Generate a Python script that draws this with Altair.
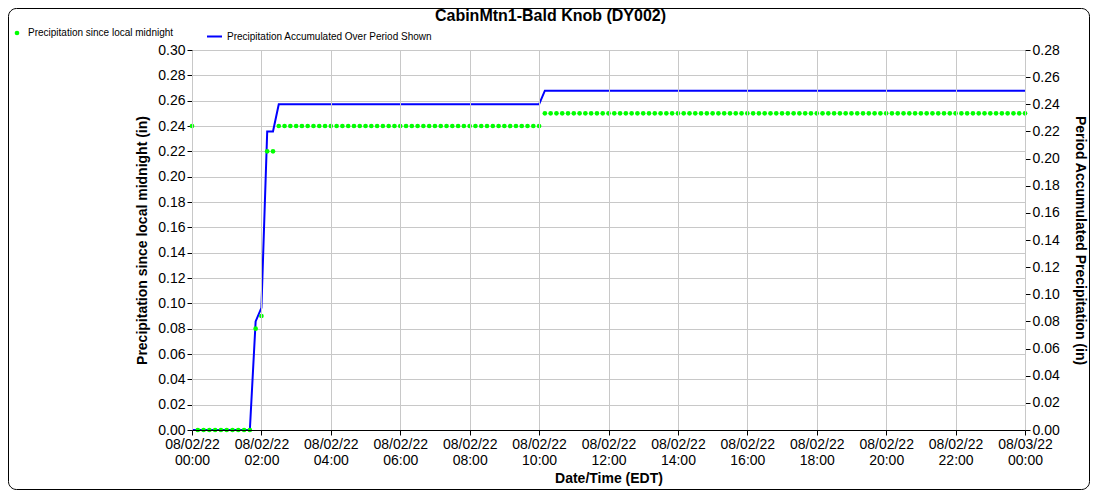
import altair as alt
import pandas as pd

# 10-minute sampling grid, minutes after 08/02/22 00:00 (EDT)
minutes = [10 * i for i in range(145)]

# Precipitation since local midnight (in) — left axis
since_midnight = ([0.24] + [0.00] * 10 + [0.08, 0.09, 0.22, 0.22]
                  + [0.24] * 46 + [0.25] * 84)
# Precipitation accumulated over period shown (in) — right axis
accumulated = ([0.00] * 11 + [0.08, 0.09, 0.22, 0.22]
               + [0.24] * 46 + [0.25] * 84)

x_ticks = [0, 2, 4, 6, 8, 10, 12, 14, 16, 18, 20, 22, 24]
left_ticks = [0.00, 0.02, 0.04, 0.06, 0.08, 0.10, 0.12, 0.14, 0.16,
              0.18, 0.20, 0.22, 0.24, 0.26, 0.28, 0.30]
right_ticks = [0.00, 0.02, 0.04, 0.06, 0.08, 0.10, 0.12, 0.14, 0.16,
               0.18, 0.20, 0.22, 0.24, 0.26, 0.28]

series_a = "Precipitation since local midnight"
series_b = "Precipitation Accumulated Over Period Shown"
FONT = "Liberation Sans"

df = pd.DataFrame({
    "hour": [m / 60 for m in minutes],
    "since": since_midnight,
    "accum": accumulated,
    "sa": series_a,
    "sb": series_b,
})

label_expr = ("datum.value < 24 ? ['08/02/22', (datum.value < 10 ? '0' : '') + datum.value + ':00']"
              " : ['08/03/22', '00:00']")

x_enc = alt.X("hour:Q",
              scale=alt.Scale(domain=[0, 24], nice=False, zero=False),
              axis=alt.Axis(values=x_ticks, labelExpr=label_expr, title="Date/Time (EDT)",
                            grid=True, zindex=1, labelLineHeight=16, labelPadding=2,
                            labelOverlap=False, labelFlush=False, titlePadding=4))

base = alt.Chart(df)

line = base.mark_line(strokeWidth=2, interpolate="linear").encode(
    x=x_enc,
    y=alt.Y("accum:Q",
            scale=alt.Scale(domain=[0, 0.28], nice=False),
            axis=alt.Axis(orient="right", values=right_ticks, format=".2f", grid=False,
                          labelOverlap=False, labelFlush=False,
                          title="Period Accumulated Precipitation (in)", titlePadding=13)),
    stroke=alt.Stroke("sb:N", scale=alt.Scale(domain=[series_b], range=["#0000ff"]),
                      legend=alt.Legend(title=None, orient="none", legendX=14, legendY=-22,
                                        symbolType="stroke", symbolSize=225, labelLimit=500,
                                        symbolStrokeWidth=2, labelOffset=4)),
)

points = base.mark_circle(size=22, opacity=1).encode(
    x=x_enc,
    y=alt.Y("since:Q",
            scale=alt.Scale(domain=[0, 0.30], nice=False),
            axis=alt.Axis(orient="left", values=left_ticks, format=".2f", grid=True,
                          labelOverlap=False, labelFlush=False,
                          title="Precipitation since local midnight (in)", titlePadding=8)),
    fill=alt.Fill("sa:N", scale=alt.Scale(domain=[series_a], range=["#00ff00"]),
                  legend=alt.Legend(title=None, orient="none", legendX=-180, legendY=-22,
                                    symbolType="circle", symbolSize=22, labelLimit=500,
                                    labelOffset=6)),
)

frame = alt.Chart(alt.Data(values=[{}])).mark_rect(
    fillOpacity=0, stroke="black", strokeWidth=1, cornerRadius=8
).encode(
    x=alt.value(-183.5), x2=alt.value(897.5), y=alt.value(-41.5), y2=alt.value(439.5)
)

chart = alt.layer(frame, line, points).resolve_scale(
    y="independent", fill="independent", stroke="independent"
).properties(
    width=833, height=380,
    title=alt.TitleParams("CabinMtn1-Bald Knob (DY002)", offset=-16, dx=-58),
    padding={"left": 184, "top": 42, "right": 65, "bottom": 60},
    autosize=alt.AutoSizeParams(type="none"),
    background="white",
).configure_view(
    stroke="black", strokeWidth=1
).configure_axis(
    labelFont=FONT, labelFontSize=14, labelColor="black",
    titleFont=FONT, titleFontSize=14, titleFontWeight="bold", titleColor="black",
    domainColor="black", tickColor="black", tickSize=5,
    gridColor="#c8c8c8", gridWidth=1,
).configure_legend(
    labelFont=FONT, labelFontSize=10, labelColor="black", padding=0,
).configure_title(
    font=FONT, fontSize=16, fontWeight="bold", anchor="middle", color="black",
)

chart.save("out.html", embed_options={"renderer": "svg", "actions": False})
